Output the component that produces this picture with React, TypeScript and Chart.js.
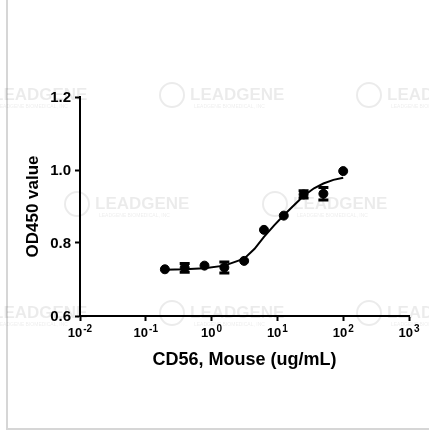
import React, { useEffect, useRef } from "react";
import { Chart, registerables } from "chart.js";

Chart.register(...registerables);

// ---- data ----
const concentrations = [0.195, 0.39, 0.78, 1.5625, 3.125, 6.25, 12.5, 25, 50, 100];
const odMeans = [0.728, 0.732, 0.738, 0.733, 0.751, 0.836, 0.875, 0.933, 0.935, 0.997];
const odErrors = [0, 0.012, 0, 0.015, 0, 0, 0, 0.01, 0.017, 0];
const curveX = [0.195, 0.39, 0.78, 1.5625, 3.125, 4.5, 6.25, 9, 12.5, 18, 25, 36, 50, 71, 100];
const curveY = [0.727, 0.728, 0.731, 0.738, 0.757, 0.784, 0.817, 0.849, 0.876, 0.904, 0.929, 0.95, 0.963, 0.973, 0.979];
const xTickExponents = [-2, -1, 0, 1, 2, 3];
const yTickValues = [0.6, 0.8, 1.0, 1.2];
const xTitle = "CD56, Mouse (ug/mL)";
const yTitle = "OD450 value";
const watermarkText = "LEADGENE";
const watermarkSub = "LEADGENE BIOMEDICAL, INC";

const FONT = '"Liberation Sans", Arial, Helvetica, sans-serif';

const backgroundPlugin = {
  id: "background",
  beforeDraw(chart: any) {
    const ctx = chart.ctx as CanvasRenderingContext2D;
    ctx.save();
    ctx.strokeStyle = "#d6d6d6";
    ctx.lineWidth = 2;
    ctx.beginPath();
    ctx.moveTo(7, 0);
    ctx.lineTo(7, 429);
    ctx.lineTo(429, 429);
    ctx.stroke();
    const spots = [
      [-7, 100], [190, 100], [387, 100],
      [95, 209], [293, 209],
      [-7, 318], [190, 318], [387, 318],
    ];
    ctx.fillStyle = "rgba(0,0,0,0.08)";
    ctx.strokeStyle = "rgba(0,0,0,0.08)";
    ctx.textAlign = "left";
    ctx.textBaseline = "alphabetic";
    spots.forEach(([x, y]) => {
      ctx.font = `bold 17px ${FONT}`;
      ctx.fillText(watermarkText, x, y);
      ctx.font = `5px ${FONT}`;
      ctx.fillText(watermarkSub, x + 4, y + 8);
      ctx.lineWidth = 2;
      ctx.beginPath();
      ctx.arc(x - 18, y - 5, 12, 0, Math.PI * 2);
      ctx.stroke();
    });
    ctx.restore();
  },
};

const errorBarPlugin = {
  id: "errorBars",
  afterDatasetsDraw(chart: any) {
    const ctx = chart.ctx as CanvasRenderingContext2D;
    const xs = chart.scales.x;
    const ys = chart.scales.y;
    ctx.save();
    ctx.strokeStyle = "#000";
    concentrations.forEach((c, i) => {
      const e = odErrors[i];
      if (!e) return;
      const px = xs.getPixelForValue(c);
      const top = ys.getPixelForValue(odMeans[i] + e);
      const bot = ys.getPixelForValue(odMeans[i] - e);
      ctx.lineWidth = 2;
      ctx.beginPath();
      ctx.moveTo(px, top);
      ctx.lineTo(px, bot);
      ctx.stroke();
      ctx.lineWidth = 3;
      ctx.beginPath();
      ctx.moveTo(px - 5, top);
      ctx.lineTo(px + 5, top);
      ctx.moveTo(px - 5, bot);
      ctx.lineTo(px + 5, bot);
      ctx.stroke();
    });
    ctx.restore();
  },
};

const axisTextPlugin = {
  id: "axisText",
  afterDraw(chart: any) {
    const ctx = chart.ctx as CanvasRenderingContext2D;
    const xs = chart.scales.x;
    const ys = chart.scales.y;
    const area = chart.chartArea;
    ctx.save();
    ctx.fillStyle = "#000";
    ctx.textBaseline = "alphabetic";
    ctx.textAlign = "left";
    const baseY = area.bottom + 21;
    xTickExponents.forEach((exp) => {
      const px = xs.getPixelForValue(Math.pow(10, exp));
      ctx.font = `bold 13px ${FONT}`;
      const baseW = ctx.measureText("10").width;
      ctx.font = `bold 10px ${FONT}`;
      const sup = String(exp);
      const supW = ctx.measureText(sup).width;
      const start = px - (baseW + 1 + supW) / 2;
      ctx.font = `bold 13px ${FONT}`;
      ctx.fillText("10", start, baseY);
      ctx.font = `bold 10px ${FONT}`;
      ctx.fillText(sup, start + baseW + 1, baseY - 5);
    });
    ctx.font = `bold 15px ${FONT}`;
    ctx.textAlign = "right";
    ctx.textBaseline = "middle";
    yTickValues.forEach((v) => {
      ctx.fillText(v.toFixed(1), area.left - 9, ys.getPixelForValue(v) + 1);
    });
    ctx.font = `bold 18px ${FONT}`;
    ctx.textAlign = "center";
    ctx.textBaseline = "alphabetic";
    ctx.fillText(xTitle, (area.left + area.right) / 2, area.bottom + 49);
    ctx.restore();

    ctx.save();
    ctx.fillStyle = "#000";
    ctx.translate(38, (area.top + area.bottom) / 2);
    ctx.rotate(-Math.PI / 2);
    ctx.font = `bold 17px ${FONT}`;
    ctx.textAlign = "center";
    ctx.textBaseline = "alphabetic";
    ctx.fillText(yTitle, 0, 0);
    ctx.restore();
  },
};

export default function App() {
  const canvasRef = useRef<HTMLCanvasElement | null>(null);

  useEffect(() => {
    const canvas = canvasRef.current;
    if (!canvas) return;
    const chart = new Chart(canvas, {
      type: "scatter",
      data: {
        datasets: [
          {
            label: "fit",
            data: curveX.map((x, i) => ({ x, y: curveY[i] })),
            showLine: true,
            borderColor: "#000",
            borderWidth: 2,
            pointRadius: 0,
            tension: 0,
            order: 2,
          } as any,
          {
            label: "data",
            data: concentrations.map((x, i) => ({ x, y: odMeans[i] })),
            backgroundColor: "#000",
            borderColor: "#000",
            pointRadius: 4.5,
            order: 1,
          },
        ],
      },
      options: {
        responsive: false,
        animation: false,
        events: [],
        layout: { padding: { top: 97, right: 20, left: 0, bottom: 0 } },
        plugins: { legend: { display: false }, tooltip: { enabled: false } },
        scales: {
          x: {
            type: "logarithmic",
            min: 0.01,
            max: 1000,
            afterBuildTicks: (s: any) => {
              s.ticks = xTickExponents.map((e) => ({ value: Math.pow(10, e) }));
            },
            afterFit: (s: any) => {
              s.height = 116;
            },
            ticks: { display: false },
            grid: { drawOnChartArea: false, tickLength: 5, tickColor: "#000", tickWidth: 2 },
            border: { display: true, color: "#000", width: 2 },
          },
          y: {
            min: 0.6,
            max: 1.2,
            afterBuildTicks: (s: any) => {
              s.ticks = yTickValues.map((v) => ({ value: v }));
            },
            afterFit: (s: any) => {
              s.width = 80;
            },
            ticks: { display: false },
            grid: { drawOnChartArea: false, tickLength: 5, tickColor: "#000", tickWidth: 2 },
            border: { display: true, color: "#000", width: 2 },
          },
        },
      } as any,
      plugins: [backgroundPlugin, errorBarPlugin, axisTextPlugin],
    });
    return () => chart.destroy();
  }, []);

  return (
    <div style={{ position: "absolute", left: 0, top: 0, width: 429, height: 432, background: "#fff" }}>
      <canvas
        ref={canvasRef}
        width={429}
        height={432}
        style={{ position: "absolute", left: 0, top: 0, width: 429, height: 432 }}
      />
    </div>
  );
}
